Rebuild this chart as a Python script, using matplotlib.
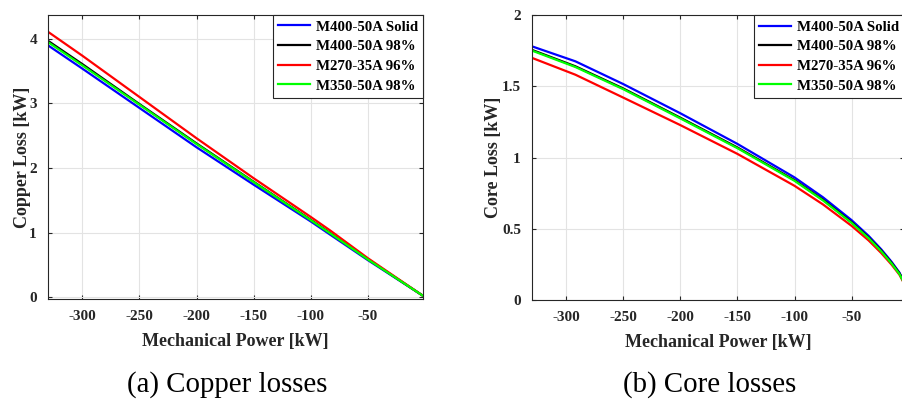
import numpy as np
import matplotlib
matplotlib.use("Agg")
import matplotlib.pyplot as plt
from matplotlib.ticker import FormatStrFormatter

plt.rcParams['font.family'] = ['Liberation Serif', 'DejaVu Serif']
plt.rcParams['axes.unicode_minus'] = False

labels = ['M400-50A Solid', 'M400-50A 98%', 'M270-35A 96%', 'M350-50A 98%']
colors = ['#0000ff', '#000000', '#ff0000', '#00ff00']

# copper losses [kW] vs mechanical power [kW]
p_cu = [-330, -300, -250, -200, -150, -100, -83, -50, -2]
cu_solid = [3.90, 3.54, 2.93, 2.32, 1.74, 1.17, 0.965, 0.57, 0.02]
cu_m400 = [3.97, 3.61, 2.99, 2.38, 1.785, 1.195, 0.99, 0.585, 0.02]
cu_m270 = [4.11, 3.74, 3.10, 2.46, 1.84, 1.24, 1.03, 0.60, 0.02]
cu_m350 = [3.95, 3.59, 2.98, 2.37, 1.78, 1.19, 0.985, 0.58, 0.02]

# core losses [kW]
p_fe = [-330, -292, -250, -200, -150, -100, -75, -50, -35, -24, -15, -8, -4]
fe_solid = [1.781, 1.676, 1.516, 1.311, 1.096, 0.861, 0.721, 0.561, 0.450, 0.356, 0.269, 0.192, 0.128]
fe_m400 = [1.756, 1.641, 1.485, 1.280, 1.071, 0.842, 0.704, 0.547, 0.439, 0.347, 0.262, 0.187, 0.125]
fe_m270 = [1.700, 1.582, 1.421, 1.228, 1.026, 0.802, 0.671, 0.521, 0.418, 0.330, 0.249, 0.177, 0.116]
fe_m350 = [1.751, 1.636, 1.480, 1.275, 1.066, 0.837, 0.699, 0.542, 0.434, 0.342, 0.257, 0.182, 0.120]

fig = plt.figure(figsize=(9.02, 3.99), dpi=100)

def style_axes(ax):
    ax.grid(True, color='#e3e3e3', linewidth=0.8)
    ax.set_axisbelow(True)
    for s in ax.spines.values():
        s.set_color('#262626')
        s.set_linewidth(0.8)
    ax.tick_params(direction='in', length=3, width=0.8, color='#262626',
                   top=True, right=True, labelsize=11, pad=8)
    for t in ax.get_xticklabels() + ax.get_yticklabels():
        t.set_fontweight('bold')
        t.set_color('#262626')

def add_legend(ax):
    leg = ax.legend(loc='upper right', borderaxespad=0, fancybox=False,
                    framealpha=1, edgecolor='#262626', handlelength=2.15,
                    handletextpad=0.4, labelspacing=0.42, borderpad=0.35,
                    prop={'weight': 'bold', 'size': 10.7})
    leg.get_frame().set_linewidth(0.8)

# (a) copper
ax1 = fig.add_axes([0.0532, 0.2506, 0.4157, 0.7118])
for y, lab, c in zip([cu_solid, cu_m400, cu_m270, cu_m350], labels, colors):
    ax1.plot(p_cu, y, color=c, linewidth=1.6, label=lab)
ax1.set_xlim(-330, -2)
ax1.set_ylim(-0.03, 4.37)
ax1.set_xticks([-300, -250, -200, -150, -100, -50])
ax1.set_yticks([0, 1, 2, 3, 4])
ax1.set_xlabel('Mechanical Power [kW]', fontsize=13, fontweight='bold', color='#262626', labelpad=7)
ax1.set_ylabel('Copper Loss [kW]', fontsize=13, fontweight='bold', color='#262626', labelpad=-1)
style_axes(ax1)
add_legend(ax1)

# (b) core
ax2 = fig.add_axes([0.5898, 0.248, 0.4125, 0.714])
for y, lab, c in zip([fe_solid, fe_m400, fe_m270, fe_m350], labels, colors):
    ax2.plot(p_fe, y, color=c, linewidth=1.6, label=lab)
ax2.set_xlim(-330, -4)
ax2.set_ylim(0, 2)
ax2.set_xticks([-300, -250, -200, -150, -100, -50])
ax2.set_yticks([0, 0.5, 1, 1.5, 2])
ax2.yaxis.set_major_formatter(FormatStrFormatter('%g'))
ax2.set_xlabel('Mechanical Power [kW]', fontsize=13, fontweight='bold', color='#262626', labelpad=7)
ax2.set_ylabel('Core Loss [kW]', fontsize=13, fontweight='bold', color='#262626', labelpad=0)
style_axes(ax2)
add_legend(ax2)

fig.text(227 / 902, 1 - 385 / 399, '(a) Copper losses', ha='center', va='center', fontsize=20.8)
fig.text(710 / 902, 1 - 385 / 399, '(b) Core losses', ha='center', va='center', fontsize=20.8)

fig.savefig('out.png', dpi=100)
